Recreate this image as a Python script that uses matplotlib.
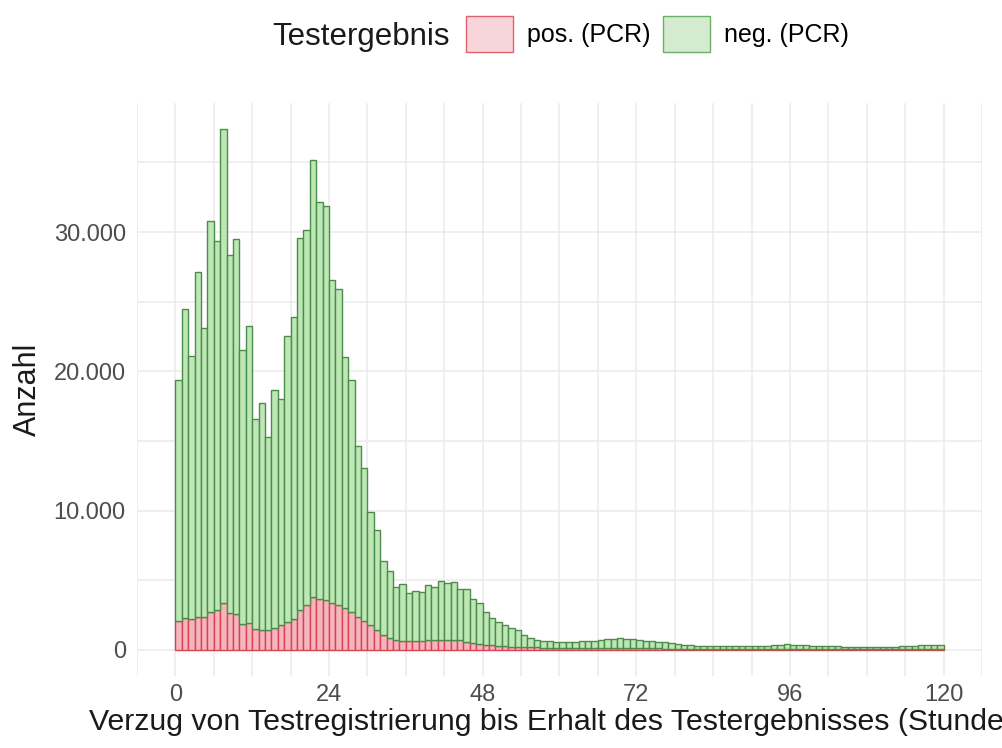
import numpy as np
import matplotlib.pyplot as plt
from matplotlib.patches import Patch
from matplotlib.ticker import FuncFormatter, MultipleLocator

plt.rcParams['font.family'] = ['Liberation Sans', 'DejaVu Sans']

# Stunden 0..119 (Klassenbreite 1 Stunde)
stunden = np.arange(120)

# positive PCR-Tests pro Stunde
pos = [2100, 2320, 2200, 2390, 2340, 2750, 2870, 3390, 2680, 2560, 1860, 1910,
       1510, 1410, 1410, 1600, 1770, 2010, 2250, 2870, 3230, 3820, 3680, 3590,
       3390, 3200, 2990, 2700, 2390, 2100, 1800, 1450,
       1100, 850, 700, 620, 620, 620, 620, 700, 700, 700, 700, 700,
       700, 600, 520, 450, 380, 330, 280, 250, 230, 210,
       200, 190, 180, 170, 160, 150, 150, 150, 150, 150, 150, 150,
       150, 150, 150, 150, 140, 140, 130, 120, 120, 110, 100, 100,
       90, 90, 80, 80, 80, 70, 70, 70,
       70, 70, 60, 60, 60, 60, 60, 60, 60, 70, 60, 60,
       60, 60, 60, 50, 50, 50, 50, 50, 50, 50, 50, 50,
       50, 50, 50, 50, 50, 60, 60, 60, 60, 60]

# negative PCR-Tests pro Stunde
neg = [17250, 22130, 18920, 24780, 20760, 28040, 26520, 34010, 25680, 26960, 19680, 21320,
       15090, 16300, 13870, 17030, 16280, 20560, 21620, 26680, 26900, 31360, 28490, 28280,
       23200, 22680, 18020, 16650, 12280, 10980, 8110, 7190,
       5280, 4810, 3840, 4090, 3490, 3610, 3510, 3960, 3840, 4250, 4130, 4150,
       3670, 3770, 3140, 2900, 2370, 1990, 1700, 1540, 1370, 1220,
       880, 650, 540, 480, 490, 450, 400, 400, 450, 500, 500, 520,
       570, 620, 640, 690, 650, 630, 590, 550, 530, 490, 450, 380,
       340, 270, 280, 230, 230, 220, 220, 220,
       220, 210, 210, 210, 220, 230, 240, 260, 280, 350, 300, 270,
       260, 240, 230, 230, 220, 200, 190, 180, 170, 160, 150, 150,
       160, 170, 180, 200, 220, 240, 260, 270, 270, 260]

x_ticks = [0, 24, 48, 72, 96, 120]
y_ticks = [0, 10000, 20000, 30000]

fig = plt.figure(figsize=(10.02, 7.48), dpi=100)
ax = fig.add_axes([0.1367, 0.0963, 0.8433, 0.766])

ax.bar(stunden, pos, width=1, align='edge', color='#F5B5BE',
       edgecolor='#D9434F', linewidth=1.0, zorder=3)
ax.bar(stunden, neg, width=1, align='edge', bottom=pos, color='#BDE8B5',
       edgecolor='#4B8B4B', linewidth=1.0, zorder=3)

ax.set_xlim(-6, 126)
ymax = max(np.array(pos) + np.array(neg))
ax.set_ylim(-0.05 * ymax, 1.05 * ymax)

ax.set_xticks(x_ticks)
ax.xaxis.set_minor_locator(MultipleLocator(6))
ax.set_yticks(y_ticks)
ax.yaxis.set_minor_locator(MultipleLocator(5000))
ax.yaxis.set_major_formatter(FuncFormatter(lambda v, p: f"{int(v):,}".replace(',', '.')))

ax.grid(True, which='both', color='#EBEBEB', linewidth=1.1, zorder=0)
ax.set_axisbelow(True)
for s in ax.spines.values():
    s.set_visible(False)
ax.tick_params(which='both', length=0, labelsize=17, labelcolor='#4D4D4D')
ax.tick_params(axis='x', pad=6)
ax.tick_params(axis='y', pad=8)

ax.set_ylabel('Anzahl', fontsize=22, color='#1A1A1A', labelpad=8)
# Achsentitel läuft wie im Original rechts über den Rand hinaus
ax.set_xlabel('Verzug von Testregistrierung bis Erhalt des Testergebnisses (Stunden)',
              fontsize=21.8, color='#1A1A1A', labelpad=1)

# Legende oben
fig.text(272 / 1002, 1 - 37 / 748, 'Testergebnis', fontsize=22.5, color='#1A1A1A',
         ha='left', va='center')
handles = [Patch(facecolor='#F8D5DA', edgecolor='#E0606C', linewidth=1.0),
           Patch(facecolor='#D4EBD0', edgecolor='#6AB066', linewidth=1.0)]
fig.legend(handles=handles, labels=['pos. (PCR)', 'neg. (PCR)'], ncol=2,
           loc='center left', bbox_to_anchor=(466 / 1002, 1 - 34 / 748),
           frameon=False, fontsize=18, handlelength=1.88, handleheight=1.88,
           handletextpad=0.56, columnspacing=0.5, borderpad=0, borderaxespad=0)

fig.savefig('out.png', dpi=100)
